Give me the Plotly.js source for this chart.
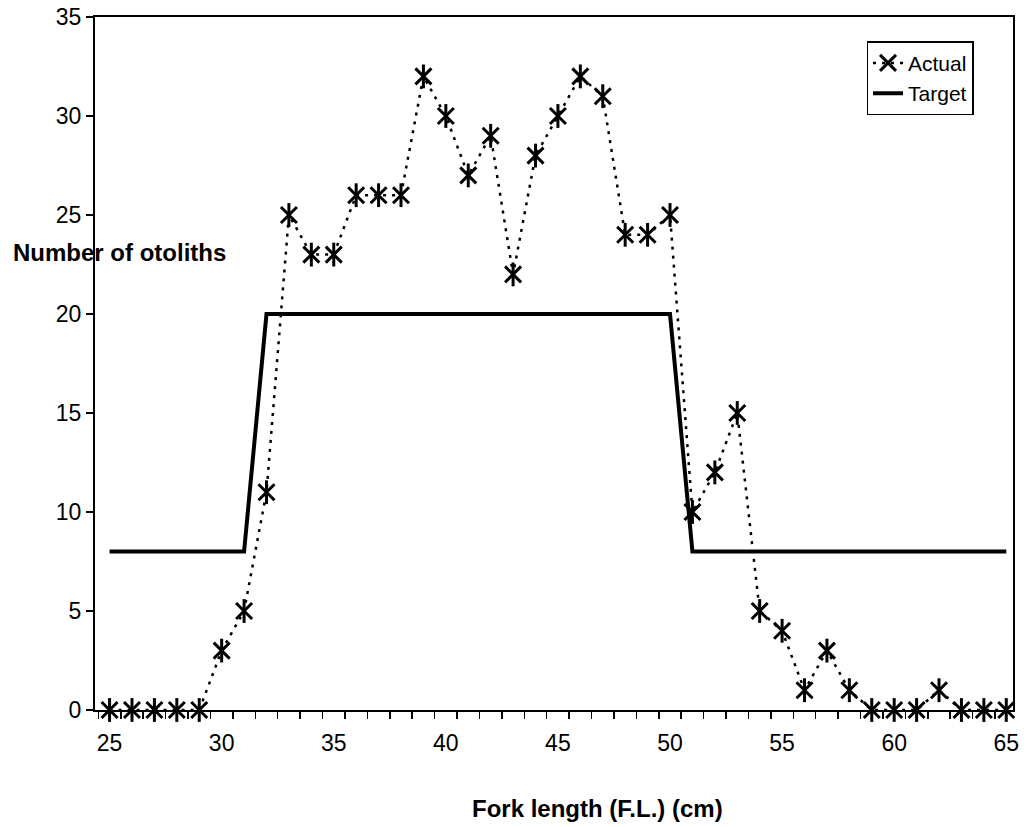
<!DOCTYPE html>
<html>
<head>
<meta charset="utf-8">
<script src="https://cdn.plot.ly/plotly-3.0.1.min.js"></script>
<style>html,body{margin:0;padding:0;background:#fff;}#chart{width:1028px;height:827px;}</style>
</head>
<body>
<div id="chart"></div>
<script>
// Fork length categories (cm)
const forkLength = [25,26,27,28,29,30,31,32,33,34,35,36,37,38,39,40,41,42,43,44,45,46,47,48,49,50,51,52,53,54,55,56,57,58,59,60,61,62,63,64,65];
// Actual number of otoliths
const actual = [0,0,0,0,0,3,5,11,25,23,23,26,26,26,32,30,27,29,22,28,30,32,31,24,24,25,10,12,15,5,4,1,3,1,0,0,0,1,0,0,0];
// Target number of otoliths
const target = [8,8,8,8,8,8,8,20,20,20,20,20,20,20,20,20,20,20,20,20,20,20,20,20,20,20,8,8,8,8,8,8,8,8,8,8,8,8,8,8,8];
const xTickVals = [25,30,35,40,45,50,55,60,65];
const yTickVals = [0,5,10,15,20,25,30,35];

const FONT = '"Liberation Sans", Arial, sans-serif';

const traces = [
  {
    x: forkLength, y: actual, name: 'Actual', type: 'scatter', mode: 'lines+markers',
    line: {color: '#000', width: 2.5, dash: '3px,6px'},
    marker: {symbol: 'x-thin-open', size: 16, color: '#000', line: {color: '#000', width: 3}},
    cliponaxis: false
  },
  {
    x: forkLength, y: actual, name: 'Actual', type: 'scatter', mode: 'markers', showlegend: false,
    marker: {symbol: 'line-ns-open', size: 17, color: '#000', line: {color: '#000', width: 3}},
    cliponaxis: false, hoverinfo: 'skip'
  },
  {
    x: forkLength, y: target, name: 'Target', type: 'scatter', mode: 'lines',
    line: {color: '#000', width: 4}
  }
];

const layout = {
  width: 1028, height: 827,
  margin: {l: 95, r: 15, t: 17, b: 117},
  paper_bgcolor: '#fff', plot_bgcolor: '#fff',
  font: {family: FONT, color: '#000', size: 23},
  showlegend: true,
  legend: {
    x: 0.957, xanchor: 'right', y: 0.965, yanchor: 'top',
    bgcolor: '#fff', bordercolor: '#000', borderwidth: 1.5,
    font: {family: FONT, size: 21, color: '#000'},
    traceorder: 'normal'
  },
  xaxis: {
    range: [24.35, 65.3],
    tickmode: 'array', tickvals: xTickVals, ticktext: xTickVals.map(String),
    ticks: '', ticklabelstandoff: 11,
    showgrid: false, zeroline: false,
    showline: true, linecolor: '#000', linewidth: 2, mirror: true,
    tickfont: {family: FONT, size: 23, color: '#000'},
    minor: {ticks: 'outside', tick0: 0.5, dtick: 1, ticklen: 7, tickwidth: 1.5, tickcolor: '#000', showgrid: false}
  },
  yaxis: {
    range: [0, 35],
    tickmode: 'array', tickvals: yTickVals, ticktext: yTickVals.map(String),
    ticks: 'outside', ticklen: 7, tickwidth: 1.5, tickcolor: '#000',
    showgrid: false, zeroline: false,
    showline: true, linecolor: '#000', linewidth: 2, mirror: true,
    tickfont: {family: FONT, size: 23, color: '#000'}
  },
  annotations: [
    {
      text: '<b>Number of otoliths</b>', xref: 'paper', yref: 'paper',
      x: -0.0915, xanchor: 'left', y: 0.66, yanchor: 'middle', showarrow: false,
      font: {family: FONT, size: 24, color: '#000'}
    },
    {
      text: '<b>Fork length (F.L.) (cm)</b>', xref: 'paper', yref: 'paper',
      x: 0.547, xanchor: 'center', y: -0.1416, yanchor: 'middle', showarrow: false,
      font: {family: FONT, size: 24, color: '#000'}
    }
  ]
};

Plotly.newPlot('chart', traces, layout, {displayModeBar: false, staticPlot: true});
</script>
</body>
</html>
